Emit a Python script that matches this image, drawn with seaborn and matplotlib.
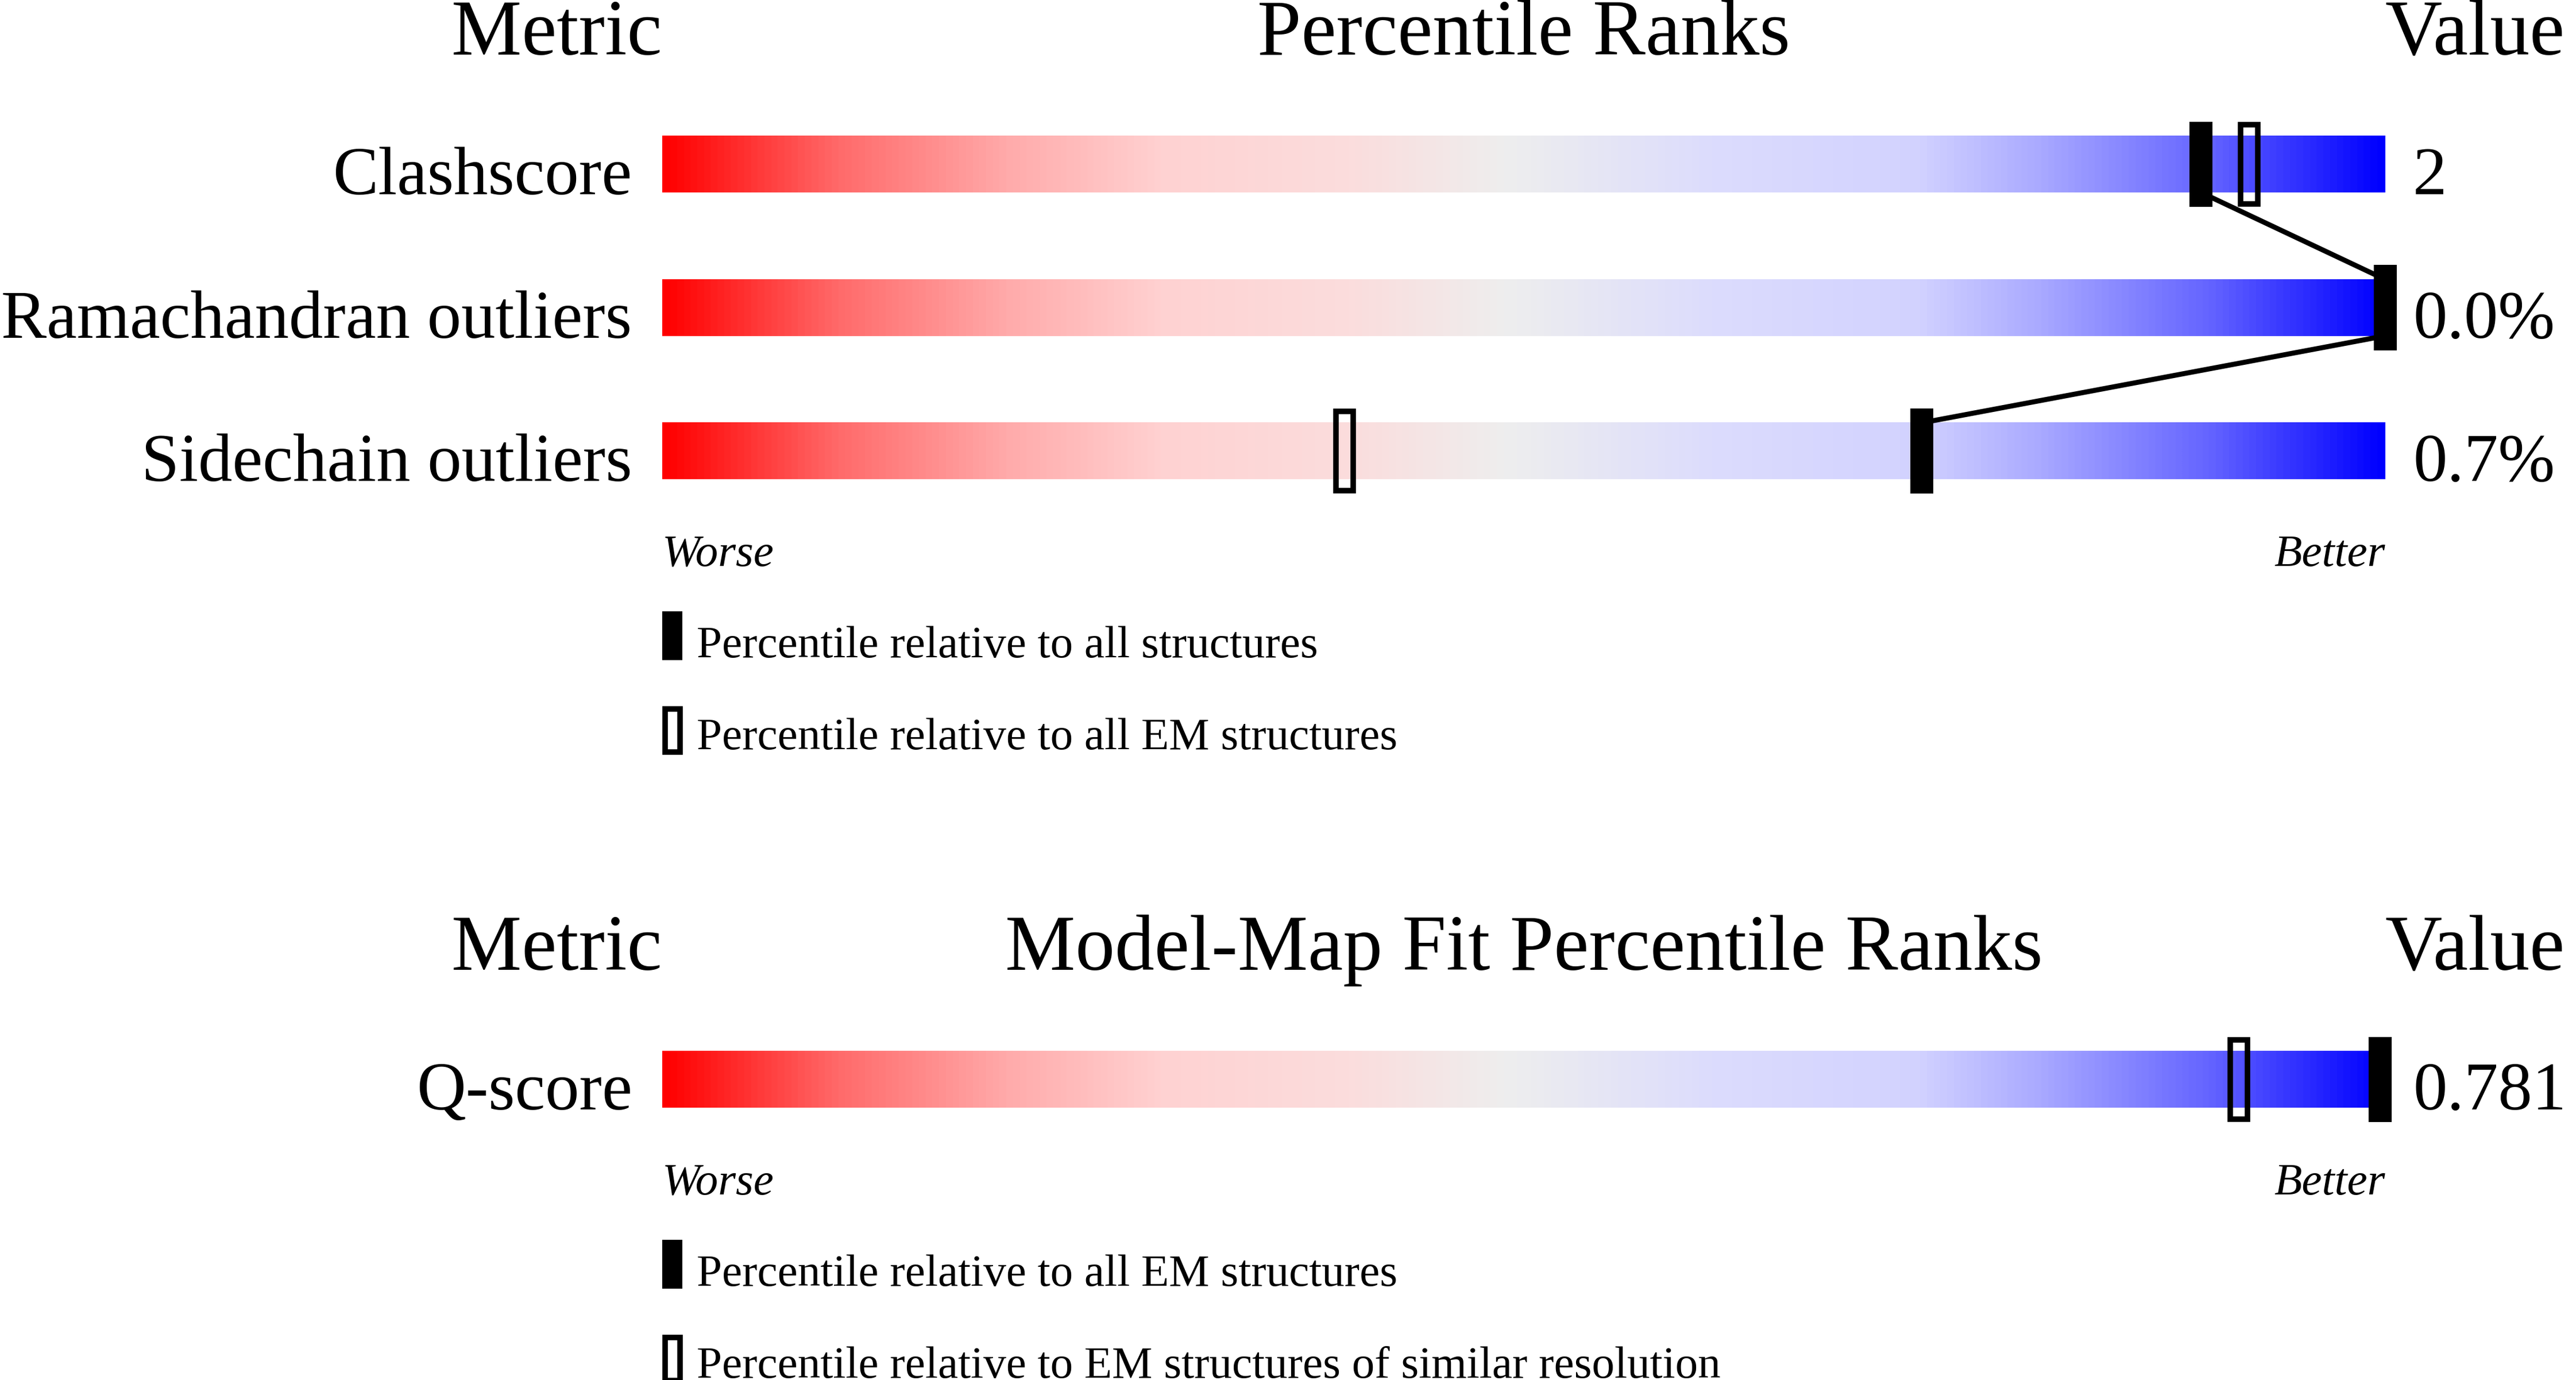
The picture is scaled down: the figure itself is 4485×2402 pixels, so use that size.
import matplotlib
matplotlib.use('Agg')
import matplotlib.pyplot as plt
import numpy as np
import seaborn as sns
from matplotlib.colors import LinearSegmentedColormap
from matplotlib.patches import Rectangle

# top panel: validation metrics
metrics = ['Clashscore', 'Ramachandran outliers', 'Sidechain outliers']
metric_values = ['2', '0.0%', '0.7%']
pct_all = [89.3, 100.0, 73.1]
pct_em = [92.1, 100.0, 39.6]
legend_top = ['Percentile relative to all structures',
              'Percentile relative to all EM structures']

# bottom panel: model-map fit
fit_metrics = ['Q-score']
fit_values = ['0.781']
fit_pct_all = [99.7]
fit_pct_res = [91.5]
legend_bottom = ['Percentile relative to all EM structures',
                 'Percentile relative to EM structures of similar resolution']

sns.set_theme(style='white')
plt.rcParams['font.family'] = ['Liberation Serif', 'DejaVu Serif']
plt.rcParams['text.color'] = 'black'

W, H, DPI = 4485, 2402, 300
BAR_L, BAR_W = 1153, 3000
PITCH = 249.5
BAR_H = 0.393
MARK_H = 0.597
MARK_W = 1.33

cmap = LinearSegmentedColormap.from_list('worse_better', [
    (0.00, '#ff0000'), (0.10, '#ff6a6a'), (0.20, '#ffabab'),
    (0.29, '#ffd2d2'), (0.40, '#fbdddd'), (0.49, '#eeeeee'),
    (0.61, '#dcdcfd'), (0.73, '#d2d2ff'), (0.80, '#aaaaff'),
    (0.90, '#6464ff'), (1.00, '#0000ff')])

fig = plt.figure(figsize=(W / DPI, H / DPI), dpi=DPI)


def draw_panel(px_top, px_bottom, px_row0, title, names, vals, p_fill, p_open, leg):
    ax = fig.add_axes([BAR_L / W, 1 - px_bottom / H, BAR_W / W, (px_bottom - px_top) / H])
    grad = np.linspace(0, 1, 600)[None, :]
    rows = list(range(len(names)))
    for r in rows:
        ax.imshow(grad, extent=(0, 100, r + BAR_H / 2, r - BAR_H / 2),
                  aspect='auto', cmap=cmap, interpolation='bilinear', zorder=1)
        ax.text(-1.75, r + 0.21, names[r], ha='right', va='baseline', fontsize=28.5)
        ax.text(101.6, r + 0.21, vals[r], ha='left', va='baseline', fontsize=28.5)

    # connector line: bottom of one marker to top of the next
    if len(rows) > 1:
        xs, ys = [], []
        for r in rows:
            xs += [p_fill[r], p_fill[r]]
            ys += [r - BAR_H / 2, r + BAR_H / 2]
        sns.lineplot(x=xs[1:-1], y=ys[1:-1], sort=False, estimator=None,
                     color='black', linewidth=2.1, ax=ax, legend=False, zorder=3)
        ax.lines[-1].set_clip_on(False)

    for r in rows:
        ax.add_patch(Rectangle((p_open[r] - MARK_W / 2 + 0.16, r - MARK_H / 2 + 0.02),
                               MARK_W - 0.32, MARK_H - 0.04, facecolor='none',
                               edgecolor='black', linewidth=2.3, zorder=4, clip_on=False))
        ax.add_patch(Rectangle((p_fill[r] - MARK_W / 2, r - MARK_H / 2), MARK_W, MARK_H,
                               facecolor='black', edgecolor='none', zorder=5, clip_on=False))

    # headers
    ax.text(0, -0.766, 'Metric', ha='right', va='baseline', fontsize=33)
    ax.text(50, -0.766, title, ha='center', va='baseline', fontsize=33)
    ax.text(100, -0.766, 'Value', ha='left', va='baseline', fontsize=33)

    last = rows[-1]
    ax.text(0, last + 0.8, 'Worse', ha='left', va='baseline', fontsize=19, style='italic')
    ax.text(100, last + 0.8, 'Better', ha='right', va='baseline', fontsize=19, style='italic')

    # legend
    ax.add_patch(Rectangle((0, last + 1.12), 1.17, 0.34, facecolor='black',
                           edgecolor='none', clip_on=False))
    ax.add_patch(Rectangle((0.15, last + 1.80), 0.87, 0.30, facecolor='none',
                           edgecolor='black', linewidth=2.3, clip_on=False))
    ax.text(2.0, last + 1.44, leg[0], ha='left', va='baseline', fontsize=19)
    ax.text(2.0, last + 2.08, leg[1], ha='left', va='baseline', fontsize=19)

    ax.set_xlim(0, 100)
    ax.set_ylim((px_bottom - px_row0) / PITCH, (px_top - px_row0) / PITCH)
    ax.set_axis_off()
    return ax


draw_panel(0, 1360, 286, 'Percentile Ranks', metrics, metric_values, pct_all, pct_em, legend_top)
draw_panel(1400, 2402, 1879, 'Model-Map Fit Percentile Ranks', fit_metrics, fit_values,
           fit_pct_all, fit_pct_res, legend_bottom)

fig.savefig('out.png', dpi=DPI)
